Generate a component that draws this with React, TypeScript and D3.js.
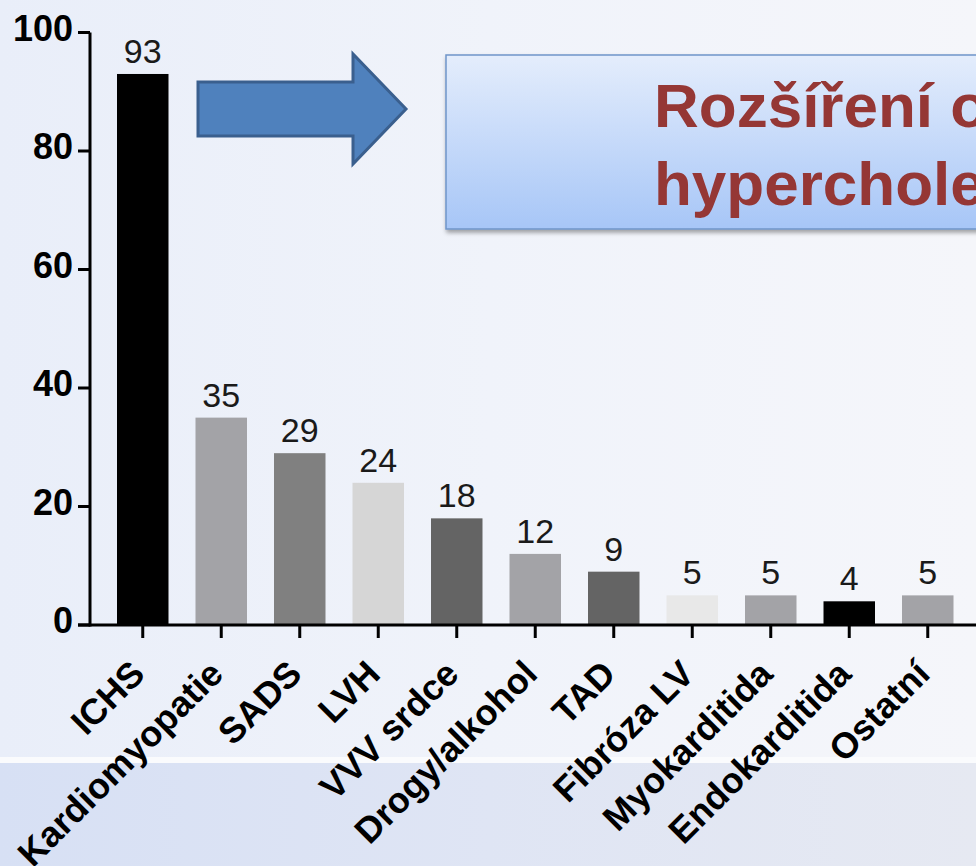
import React, { useEffect } from "react";
import * as d3 from "d3";

const categories = [
  "ICHS",
  "Kardiomyopatie",
  "SADS",
  "LVH",
  "VVV srdce",
  "Drogy/alkohol",
  "TAD",
  "Fibróza LV",
  "Myokarditida",
  "Endokarditida",
  "Ostatní",
];
const values = [93, 35, 29, 24, 18, 12, 9, 5, 5, 4, 5];
const barFills = [
  "#000000",
  "#a3a3a7",
  "#808080",
  "#d6d6d6",
  "#646464",
  "#a3a3a7",
  "#646464",
  "#e8e8e8",
  "#a3a3a7",
  "#000000",
  "#a3a3a7",
];
const yTicks = [0, 20, 40, 60, 80, 100];
const calloutLines = ["Rozšíření o familiární", "hypercholesterolemii"];

const W = 976;
const H = 866;
const FONT = "'Liberation Sans', Arial, Helvetica, sans-serif";

export default function App() {
  useEffect(() => {
    document.body.style.margin = "0";
  }, []);

  const x = d3
    .scaleBand<string>()
    .domain(categories)
    .range([103.5, 967])
    .paddingInner(0.344)
    .paddingOuter(0.172);
  const y = d3.scaleLinear().domain([0, 100]).range([625, 32.5]);

  const axisX = 90;
  const baseY = y(0);

  const arrow = d3.path();
  arrow.moveTo(198, 82);
  arrow.lineTo(353, 82);
  arrow.lineTo(353, 54);
  arrow.lineTo(406, 109);
  arrow.lineTo(353, 164);
  arrow.lineTo(353, 136);
  arrow.lineTo(198, 136);
  arrow.closePath();

  return (
    <svg
      width={W}
      height={H}
      style={{ position: "absolute", left: 0, top: 0, display: "block" }}
    >
      <defs>
        <linearGradient id="bgTop" x1="0" y1="0" x2="1" y2="0">
          <stop offset="0" stopColor="#e9eef9" />
          <stop offset="0.5" stopColor="#f0f3fa" />
          <stop offset="1" stopColor="#f5f6fa" />
        </linearGradient>
        <linearGradient id="bgBot" x1="0" y1="0" x2="1" y2="0">
          <stop offset="0" stopColor="#d7e0f4" />
          <stop offset="0.5" stopColor="#dfe5f4" />
          <stop offset="1" stopColor="#e6e9f2" />
        </linearGradient>
        <linearGradient id="boxFill" x1="0" y1="0" x2="0" y2="1">
          <stop offset="0" stopColor="#e4edfc" />
          <stop offset="1" stopColor="#a7c6f7" />
        </linearGradient>
        <filter id="shadow" x="-10%" y="-10%" width="130%" height="140%">
          <feDropShadow dx="1" dy="3" stdDeviation="2" floodColor="#000" floodOpacity="0.35" />
        </filter>
      </defs>

      <rect x={0} y={0} width={W} height={757} fill="url(#bgTop)" />
      <rect x={0} y={757} width={W} height={6} fill="#fafbfd" />
      <rect x={0} y={763} width={W} height={H - 763} fill="url(#bgBot)" />

      {/* callout arrow */}
      <path
        d={arrow.toString()}
        fill="#4f81bd"
        stroke="#3a5f8e"
        strokeWidth={3}
        strokeLinejoin="miter"
      />

      {/* callout box */}
      <rect
        x={446}
        y={55}
        width={620}
        height={174}
        fill="url(#boxFill)"
        stroke="#6f95c9"
        strokeWidth={1.5}
        filter="url(#shadow)"
      />
      {calloutLines.map((t, i) => (
        <text
          key={t}
          x={654}
          y={127 + i * 78}
          fontFamily={FONT}
          fontWeight="bold"
          fontSize={62}
          fill="#953735"
        >
          {t}
        </text>
      ))}

      {/* bars */}
      {categories.map((c, i) => (
        <rect
          key={c}
          x={x(c)}
          y={y(values[i])}
          width={x.bandwidth()}
          height={baseY - y(values[i])}
          fill={barFills[i]}
        />
      ))}

      {/* value labels */}
      {categories.map((c, i) => (
        <text
          key={c + "-v"}
          x={(x(c) as number) + x.bandwidth() / 2}
          y={y(values[i]) - 11}
          textAnchor="middle"
          fontFamily={FONT}
          fontSize={34}
          fill="#1a1a1a"
        >
          {values[i]}
        </text>
      ))}

      {/* y axis */}
      <line x1={axisX} x2={axisX} y1={y(100)} y2={baseY + 1.5} stroke="#000" strokeWidth={3} />
      {yTicks.map((t) => (
        <g key={t}>
          <line x1={78} x2={axisX} y1={y(t)} y2={y(t)} stroke="#000" strokeWidth={3} />
          <text
            x={73}
            y={y(t) + 8}
            textAnchor="end"
            fontFamily={FONT}
            fontWeight="bold"
            fontSize={36}
            fill="#000"
          >
            {t}
          </text>
        </g>
      ))}

      {/* x axis */}
      <line x1={78} x2={W} y1={baseY} y2={baseY} stroke="#000" strokeWidth={3} />
      {categories.map((c) => {
        const cx = (x(c) as number) + x.bandwidth() / 2;
        return (
          <g key={c + "-t"}>
            <line x1={cx} x2={cx} y1={baseY} y2={baseY + 13} stroke="#000" strokeWidth={3} />
            <text
              transform={`translate(${cx + 4},${676}) rotate(-45)`}
              textAnchor="end"
              fontFamily={FONT}
              fontWeight="bold"
              fontSize={36}
              fill="#000"
            >
              {c}
            </text>
          </g>
        );
      })}
    </svg>
  );
}
